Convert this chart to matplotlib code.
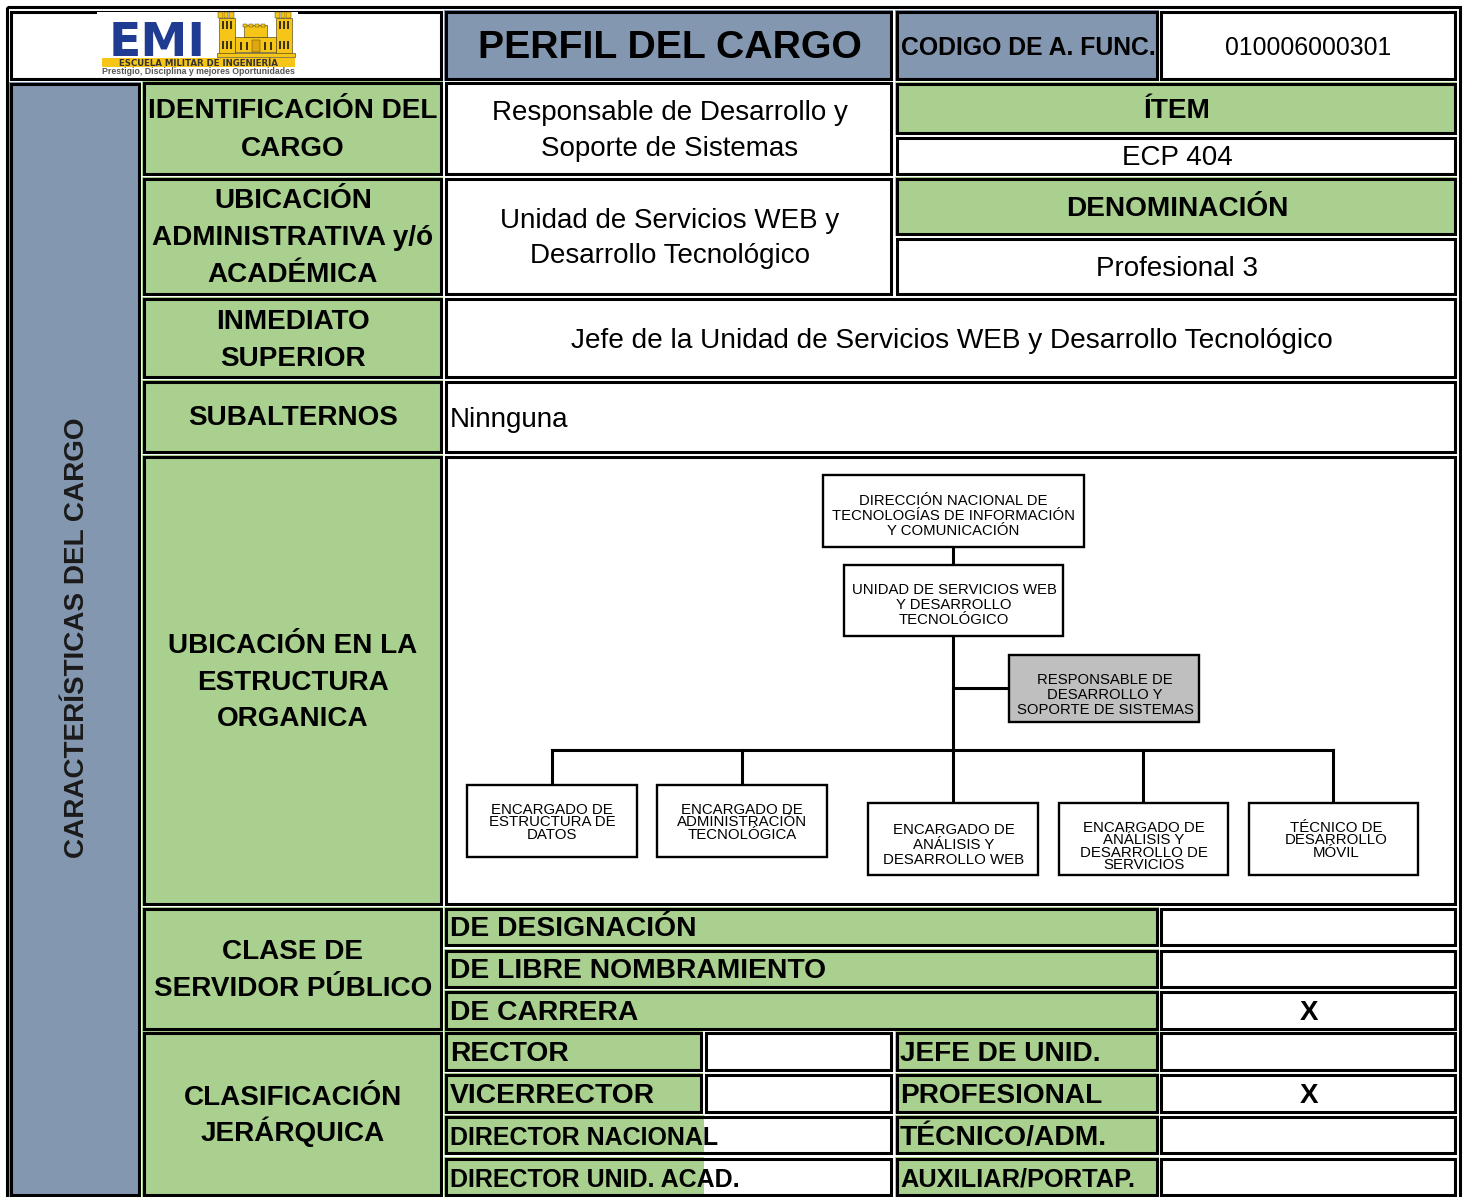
import matplotlib
matplotlib.use("Agg")
import matplotlib.pyplot as plt
from matplotlib.patches import Rectangle

plt.rcParams['font.family'] = ['Liberation Sans', 'DejaVu Sans']

GREEN = '#A9D08E'
BLUE = '#8497B0'
GRAY = '#BFBFBF'
WHITE = '#FFFFFF'
BLACK = '#000000'

# ---- text content ----
title_text = "PERFIL DEL CARGO"
code_label = "CODIGO DE A. FUNC."
code_value = "010006000301"
sidebar_text = "CARACTERÍSTICAS DEL CARGO"
left_labels = ["IDENTIFICACIÓN DEL\nCARGO", "UBICACIÓN\nADMINISTRATIVA y/ó\nACADÉMICA",
               "INMEDIATO\nSUPERIOR", "SUBALTERNOS", "UBICACIÓN EN LA\nESTRUCTURA\nORGANICA",
               "CLASE DE\nSERVIDOR PÚBLICO", "CLASIFICACIÓN\nJERÁRQUICA"]
middle_values = ["Responsable de Desarrollo y\nSoporte de Sistemas",
                 "Unidad de Servicios WEB y\nDesarrollo Tecnológico"]
right_headers = ["ÍTEM", "DENOMINACIÓN"]
right_values = ["ECP 404", "Profesional 3"]
superior_value = "Jefe de la Unidad de Servicios WEB y Desarrollo Tecnológico"
subalternos_value = "Ninnguna"
clase_labels = ["DE DESIGNACIÓN", "DE LIBRE NOMBRAMIENTO", "DE CARRERA"]
clase_marks = ["", "", "X"]
jer_left_labels = ["RECTOR", "VICERRECTOR", "DIRECTOR NACIONAL", "DIRECTOR UNID. ACAD."]
jer_right_labels = ["JEFE DE UNID.", "PROFESIONAL", "TÉCNICO/ADM.", "AUXILIAR/PORTAP."]
jer_right_sizes = [20.2, 20.2, 20.3, 18.3]
jer_right_marks = ["", "X", "", ""]
org_top = [["DIRECCIÓN NACIONAL DE", "TECNOLOGÍAS DE INFORMACIÓN", "Y COMUNICACIÓN"],
           ["UNIDAD DE SERVICIOS WEB", "Y DESARROLLO", "TECNOLÓGICO"],
           ["RESPONSABLE DE", "DESARROLLO Y", "SOPORTE DE SISTEMAS"]]
org_bottom = [["ENCARGADO DE", "ESTRUCTURA DE", "DATOS"],
              ["ENCARGADO DE", "ADMINISTRACIÓN", "TECNOLÓGICA"],
              ["ENCARGADO DE", "ANÁLISIS Y", "DESARROLLO WEB"],
              ["ENCARGADO DE", "ANÁLISIS Y", "DESARROLLO DE", "SERVICIOS"],
              ["TÉCNICO DE", "DESARROLLO", "MÓVIL"]]

# ---- layout (pixels) ----
left_rows = [(83, 174), (179, 294), (299, 377), (382, 452), (457, 904), (909, 1029), (1033, 1195)]
clase_rows = [(909, 945), (951, 987), (992, 1029)]
jer_rows = [(1033, 1070), (1075, 1112), (1117, 1153), (1159, 1195)]
org_top_boxes = [(823, 475, 1084, 547), (844, 565, 1063, 636), (1009, 655, 1199, 722)]
org_top_y = [[499, 514, 529], [588, 603, 618], [678, 693, 708]]
org_top_x = [953.5, 954, 1105]
org_bot_boxes = [(467, 785, 637, 857), (657, 785, 827, 857), (868, 803, 1038, 875),
                 (1059, 803, 1228, 875), (1249, 803, 1418, 875)]
org_bot_y = [[808, 820, 833], [808, 820, 833], [828, 843, 858], [826, 838, 851, 863], [826, 838, 851]]
org_bot_x = [552, 742, 954, 1144, 1336]

fig = plt.figure(figsize=(14.64, 11.97), dpi=100, facecolor=WHITE)
ax = fig.add_axes([0, 0, 1, 1])
ax.set_xlim(0, 1464)
ax.set_ylim(1197, 0)
ax.axis('off')

BW = 2.2  # border width in points


def cell(x0, y0, x1, y1, fill=WHITE, fringe=2, lw=BW):
    ax.add_patch(Rectangle((x0 - fringe, y0 - fringe), x1 - x0 + 2 * fringe, y1 - y0 + 2 * fringe,
                           fc=fill, ec='none', zorder=1))
    ax.add_patch(Rectangle((x0, y0), x1 - x0, y1 - y0, fc='none', ec=BLACK, lw=lw,
                           joinstyle='miter', zorder=2))


def txt(x, y, s, size=22, bold=True, ha='center', va='center', color=BLACK, **kw):
    ax.text(x, y + 2, s, fontsize=size, fontweight='bold' if bold else 'normal', ha=ha, va=va,
            color=color, zorder=5, **kw)


def ml(x, ys, s, size=20.1, bold=True, ha='center'):
    for yy, line in zip(ys, s.split('\n')):
        txt(x, yy, line, size=size, bold=bold, ha=ha)


# outer frame
ax.add_patch(Rectangle((6.5, 6.5), 1453, 1195, fc='none', ec=BLACK, lw=BW, zorder=2))

# header row
cell(11, 12, 441, 79, fringe=0)
cell(446, 12, 891, 79, BLUE)
cell(897, 12, 1157, 79, BLUE)
cell(1161, 12, 1455, 79, fringe=0)
txt(670, 46, title_text, size=28.3)
txt(1028, 46, code_label, size=17.8)
txt(1308, 46, code_value, size=17.8, bold=False)

# logo
ax.add_patch(Rectangle((97, 12), 201, 64, fc=WHITE, ec='none', zorder=3))
ax.text(157, 44, "EMI", fontsize=34, fontweight='bold', family='DejaVu Sans', color='#1F3C92',
        ha='center', va='center', zorder=5)
YEL = '#F5C518'
DRK = '#3F3310'
for r in [(219, 18, 16, 36), (276, 18, 16, 36), (235, 37, 41, 15), (244, 25, 23, 12),
          (217, 53, 78, 4)]:
    ax.add_patch(Rectangle((r[0], r[1]), r[2], r[3], fc=YEL, ec=DRK, lw=0.4, zorder=4))
for cx0 in (218, 223.5, 229, 275, 280.5, 286, 243, 249, 255, 261):
    top = 24 if 240 < cx0 < 270 else 12
    ax.add_patch(Rectangle((cx0, top), 4.5 if top == 12 else 4, 6 if top == 12 else 3, fc=YEL, ec=DRK,
                           lw=0.3, zorder=4))
for wx, wy in [(222, 21), (226, 21), (230, 21), (279, 21), (283, 21), (287, 21),
               (222, 41), (226, 41), (230, 41), (279, 41), (283, 41), (287, 41),
               (240, 42), (246, 42), (264, 42), (270, 42)]:
    ax.add_patch(Rectangle((wx, wy), 2, 8, fc=DRK, ec='none', zorder=4.5))
ax.add_patch(Rectangle((252, 40), 8, 12, fc='#E0A810', ec=DRK, lw=0.3, zorder=4.5))
ax.add_patch(Rectangle((102, 58), 193, 9, fc=YEL, ec='none', zorder=4))
ax.text(198, 63, "ESCUELA MILITAR DE INGENIERÍA", fontsize=6.2, fontweight='bold',
        family='DejaVu Sans', color='#333333', ha='center', va='center', zorder=5)
ax.text(198, 71.5, "Prestigio, Disciplina y mejores Oportunidades", fontsize=6.3, fontweight='bold',
        color='#555555', ha='center', va='center', zorder=5)

# sidebar
cell(11, 84, 139, 1195, BLUE)
txt(77, 636, sidebar_text, size=20.1, rotation=90, color='#1A1A1A')

# left label column
label_ys = [[109, 147], [199, 236, 273], [320, 357], [416], [644, 681, 717], [950, 987], [1096, 1130]]
for (y0, y1), lab, ys in zip(left_rows, left_labels, label_ys):
    cell(144, y0, 441, y1, GREEN)
    ml(293, ys, lab)

# middle values
for (y0, y1), val, ys in zip(left_rows[:2], middle_values, [[111, 147], [219, 254]]):
    cell(446, y0, 891, y1, fringe=0)
    ml(669.5, ys, val, size=20, bold=False)

# right column
for (y0, y1), s in zip([(84, 133), (179, 234)], right_headers):
    cell(897, y0, 1455, y1, GREEN)
    txt(1177, (y0 + y1) / 2, s, size=20.2)
for (y0, y1), s, dy in zip([(138, 174), (239, 294)], right_values, [0, 1]):
    cell(897, y0, 1455, y1, fringe=0)
    txt(1177, (y0 + y1) / 2 + dy, s, size=20, bold=False)

# superior, subalternos
cell(446, 299, 1455, 377, fringe=0)
txt(951.5, 339, superior_value, size=20.2, bold=False)
cell(446, 382, 1455, 452, fringe=0)
txt(450, 418, subalternos_value, size=20, bold=False, ha='left')

# org chart panel
cell(446, 457, 1455, 904, fringe=0)
LW_ORG = 2.2
for seg in [((953, 547), (953, 803)), ((953, 688), (1009, 688)), ((552, 750), (1333, 750)),
            ((552, 750), (552, 785)), ((742, 750), (742, 785)), ((1143, 750), (1143, 803)),
            ((1333, 750), (1333, 803))]:
    ax.plot([seg[0][0], seg[1][0]], [seg[0][1], seg[1][1]], color=BLACK, lw=LW_ORG,
            solid_capstyle='projecting', zorder=3)
for i, (b, lines, ys, cx) in enumerate(zip(org_top_boxes, org_top, org_top_y, org_top_x)):
    ax.add_patch(Rectangle((b[0], b[1]), b[2] - b[0], b[3] - b[1], fc=GRAY if i == 2 else WHITE,
                           ec=BLACK, lw=1.7, joinstyle='miter', zorder=4))
    for yy, s in zip(ys, lines):
        txt(cx, yy, s, size=10.75, bold=False)
for b, lines, ys, cx in zip(org_bot_boxes, org_bottom, org_bot_y, org_bot_x):
    ax.add_patch(Rectangle((b[0], b[1]), b[2] - b[0], b[3] - b[1], fc=WHITE, ec=BLACK, lw=1.7,
                           joinstyle='miter', zorder=4))
    for yy, s in zip(ys, lines):
        txt(cx, yy, s, size=10.8, bold=False)

# clase de servidor
for (y0, y1), s, m in zip(clase_rows, clase_labels, clase_marks):
    cell(446, y0, 1157, y1, GREEN)
    cell(1161, y0, 1455, y1, fringe=0)
    txt(450, (y0 + y1) / 2 + 0.5, s, size=20.3, ha='left')
    if m:
        txt(1309, (y0 + y1) / 2 + 0.5, m, size=20)

# clasificacion jerarquica
for i, ((y0, y1), s) in enumerate(zip(jer_rows, jer_left_labels)):
    if i < 2:
        cell(446, y0, 701, y1, GREEN)
        cell(706, y0, 891, y1, fringe=0)
        txt(450, (y0 + y1) / 2 + 0.5, s, size=20.3, ha='left')
    else:
        ax.add_patch(Rectangle((444, y0 - 2), 260, y1 - y0 + 4, fc=GREEN, ec='none', zorder=1))
        ax.add_patch(Rectangle((446, y0), 445, y1 - y0, fc='none', ec=BLACK, lw=BW,
                               joinstyle='miter', zorder=2))
        txt(450, (y0 + y1) / 2 + 1, s, size=18, ha='left')
for (y0, y1), s, m, sz in zip(jer_rows, jer_right_labels, jer_right_marks, jer_right_sizes):
    cell(897, y0, 1157, y1, GREEN)
    cell(1161, y0, 1455, y1, fringe=0)
    txt(900, (y0 + y1) / 2 + 0.5, s, size=sz, ha='left')
    if m:
        txt(1309, (y0 + y1) / 2 + 0.5, m, size=20)

fig.savefig("out.png", dpi=100)
